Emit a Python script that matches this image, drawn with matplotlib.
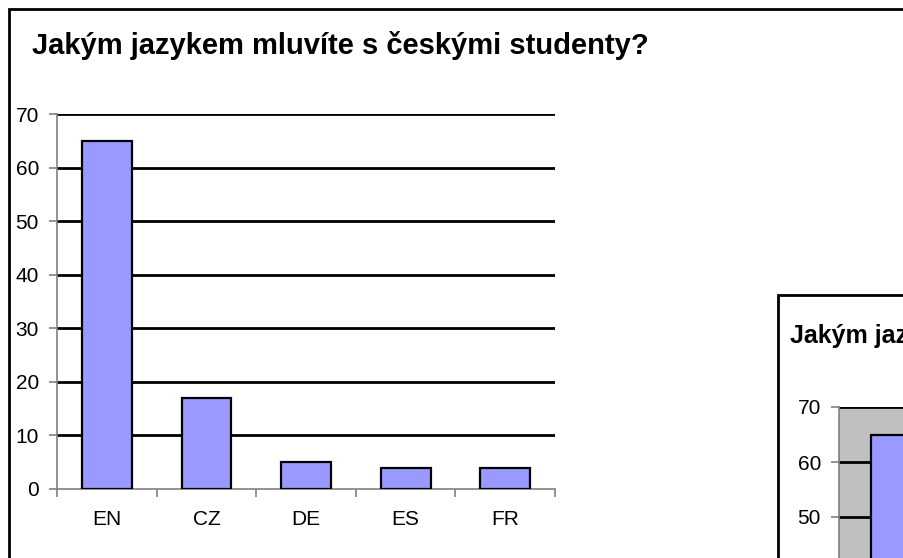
import matplotlib
matplotlib.use("Agg")
import matplotlib.pyplot as plt
from matplotlib.patches import Rectangle

plt.rcParams["font.family"] = ["Liberation Sans", "DejaVu Sans"]

LANGUAGES = ["EN", "CZ", "DE", "ES", "FR"]
COUNTS = [65, 17, 5, 4, 4]
Y_TICKS = [0, 10, 20, 30, 40, 50, 60, 70]
TITLE = "Jakým jazykem mluvíte s českými studenty?"

BAR_COLOR = "#9999FF"
W, H = 904, 558


def fig_rect(x, y, w, h):
    # pixel box (top-left origin) -> figure fraction [left, bottom, width, height]
    return [x / W, 1 - (y + h) / H, w / W, h / H]


def draw_chart(ax, plot_bg, xlabels=True, shown_ylabels=Y_TICKS):
    x = list(range(len(LANGUAGES)))
    ax.set_facecolor(plot_bg)
    ax.bar(x, COUNTS, width=0.5, color=BAR_COLOR, edgecolor="black", linewidth=1.6, zorder=3)
    ax.set_xlim(-0.5, len(LANGUAGES) - 0.5)
    ax.set_ylim(0, 70)
    ax.set_yticks(Y_TICKS)
    ax.set_yticklabels([str(v) if v in shown_ylabels else "" for v in Y_TICKS])
    ax.set_xticks([i - 0.5 for i in range(len(LANGUAGES) + 1)])
    ax.set_xticklabels([])
    ax.set_xticks(x, minor=True)
    if xlabels:
        ax.set_xticklabels(LANGUAGES, minor=True, fontsize=15)
    ax.tick_params(axis="x", which="minor", length=0, pad=15)
    ax.tick_params(axis="x", which="major", length=6, color="#808080", width=1.2)
    ax.tick_params(axis="y", length=6, color="#808080", width=1.2, labelsize=15, pad=7)
    for v in Y_TICKS[1:]:
        ax.axhline(v, color="black", linewidth=2, zorder=1)
    for side in ("top", "right"):
        ax.spines[side].set_visible(False)
    for side in ("left", "bottom"):
        ax.spines[side].set_color("#808080")
        ax.spines[side].set_linewidth(1.2)


fig = plt.figure(figsize=(W / 100, H / 100), dpi=100)
fig.patch.set_facecolor("white")

# outer frame of the main chart (runs off the right and bottom edge)
fig.patches.append(Rectangle((9 / W, -0.2), 1.2, 1 - 9 / H + 0.2, transform=fig.transFigure,
                             facecolor="none", edgecolor="black", linewidth=2, zorder=0))
fig.text(32 / W, 1 - 46 / H, TITLE, fontsize=21, fontweight="bold", ha="left", va="center")

ax = fig.add_axes(fig_rect(57, 114, 498, 375))
draw_chart(ax, "white")

# second, partly visible chart in the bottom right corner
fig.patches.append(Rectangle((778 / W, -0.2), 1.0, 1 - 295 / H + 0.2, transform=fig.transFigure,
                             facecolor="none", edgecolor="black", linewidth=2, zorder=5))
fig.text(790 / W, 1 - 336 / H, TITLE, fontsize=18, fontweight="bold", ha="left", va="center",
         zorder=6)
ax2 = fig.add_axes(fig_rect(839, 407, 640, 385))
draw_chart(ax2, "#C0C0C0", xlabels=False, shown_ylabels=[50, 60, 70])

fig.savefig("out.png", dpi=100)
